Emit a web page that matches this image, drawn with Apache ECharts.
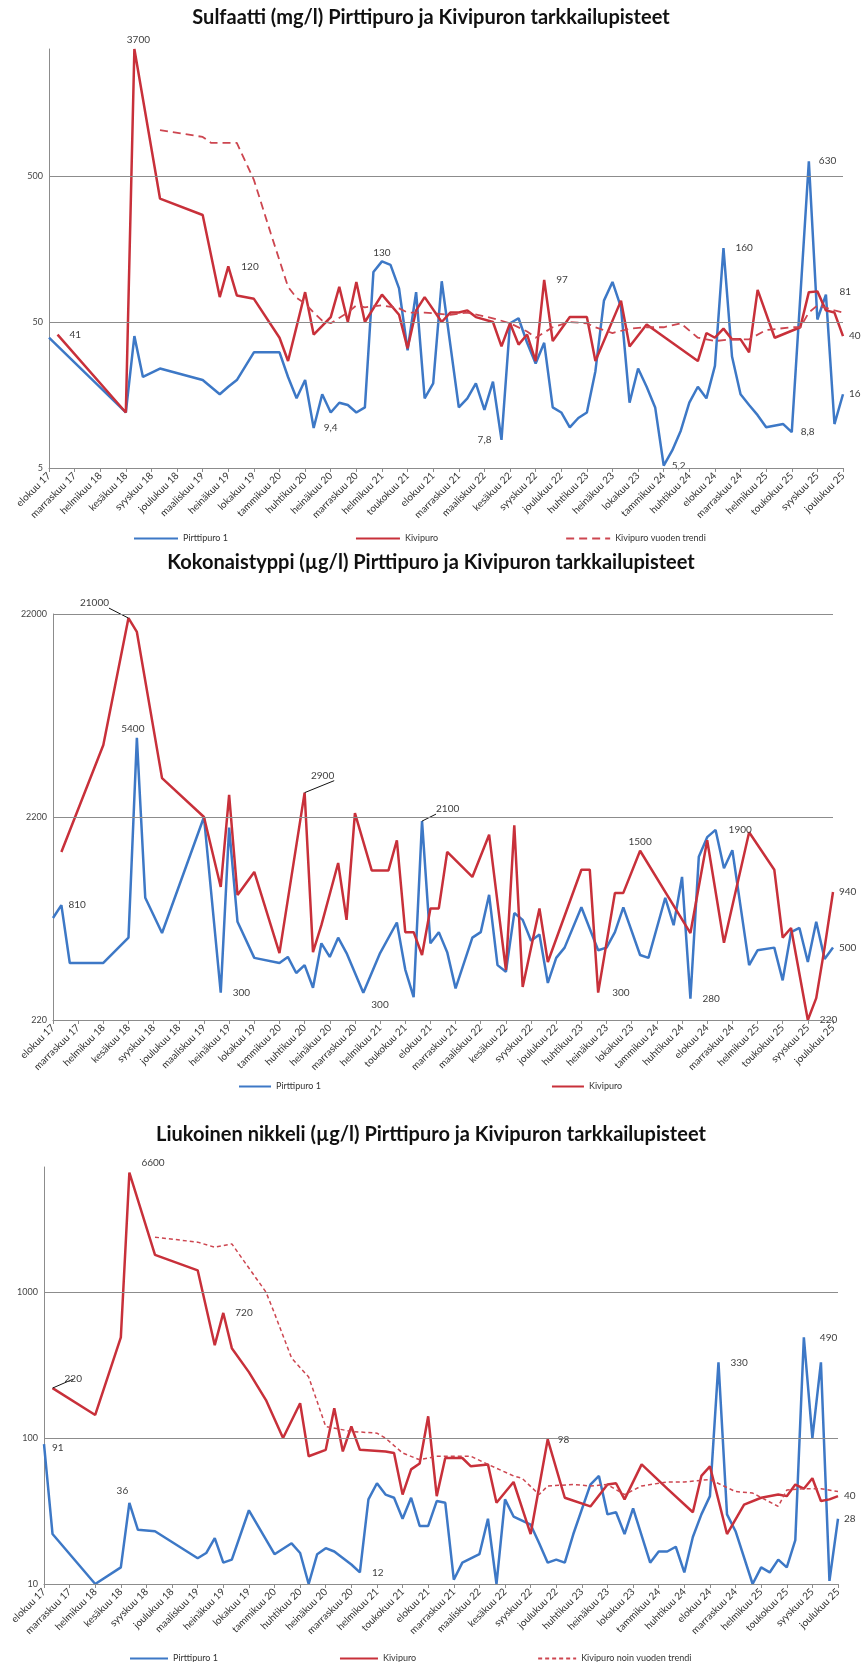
<!DOCTYPE html>
<html lang="fi">
<head>
<meta charset="UTF-8" />
<title>Pirttipuro ja Kivipuro</title>
<script src="https://cdn.jsdelivr.net/npm/echarts@6/dist/echarts.min.js"></script>
<style>
  html, body { margin: 0; padding: 0; background: #fff; }
  #main { width: 862px; height: 1662px; }
</style>
</head>
<body>
<div id="main"></div>
<script>
// x axis tick labels, one every third sampling
var monthLabels = ['elokuu 17', 'marraskuu 17', 'helmikuu 18', 'kesäkuu 18', 'syyskuu 18', 'joulukuu 18',
  'maaliskuu 19', 'heinäkuu 19', 'lokakuu 19', 'tammikuu 20', 'huhtikuu 20', 'heinäkuu 20', 'marraskuu 20',
  'helmikuu 21', 'toukokuu 21', 'elokuu 21', 'marraskuu 21', 'maaliskuu 22', 'kesäkuu 22', 'syyskuu 22',
  'joulukuu 22', 'huhtikuu 23', 'heinäkuu 23', 'lokakuu 23', 'tammikuu 24', 'huhtikuu 24', 'elokuu 24',
  'marraskuu 24', 'helmikuu 25', 'toukokuu 25', 'syyskuu 25', 'joulukuu 25'];

// gridline values (log axes)
var sulfTicks = [5, 50, 500];
var typTicks = [220, 2200, 22000];
var niTicks = [10, 100, 1000];

// [sampling index, value]
var sulfPirtti = [[0,39],[9,12],[10,40],[11,21],[13,24],[18,20],[20,16],[21,18],[22,20],[24,31],[27,31],[28,21],
  [29,15],[30,20],[31,9.4],[32,16],[33,12],[34,14],[35,13.5],[36,12],[37,13],[38,110],[39,130],[40,123],[41,85],
  [42,32],[43,80],[44,15],[45,19],[46,95],[48,13],[49,15],[50,19],[51,12.5],[52,19.5],[53,7.8],[54,49],[55,53],
  [56,36],[57,26],[58,36],[59,13],[60,12],[61,9.5],[62,11],[63,12],[64,23],[65,70],[66,94],[67,63],[68,14],
  [69,24],[70,18],[71,13],[72,5.2],[73,6.6],[74,9],[75,14],[76,18],[77,15],[78,25],[79,160],[80,29],[81,16],
  [82,13.5],[83,11.5],[84,9.5],[86,10],[87,8.8],[89,630],[90,52],[91,77],[92,10],[93,16]];
var sulfKivi = [[1,41],[9,12],[10,3700],[13,350],[18,270],[20,74],[21,120],[22,76],[24,72],[27,39],[28,27],
  [30,80],[31,41],[32,47],[33,54],[34,87],[35,50],[36,94],[37,50],[39,77],[41,56],[42,33],[43,60],[44,74],
  [46,50],[47,58],[48,58],[49,60],[50,54],[52,50],[53,34],[54,49],[55,35],[56,41],[57,27],[58,97],[59,37],
  [61,54],[63,54],[64,27],[67,70],[68,34],[70,48],[76,27],[77,42],[78,39],[79,45],[80,38],[81,38],[82,31],
  [83,83],[85,39],[88,46],[89,80],[90,81],[91,60],[92,58],[93,40]];
var sulfTrend = [[13,1030],[18,925],[19,841],[22,841],[24,470],[26,200],[28,87],[29,73],[30,67],[31,58],
  [32,51],[33,49],[35,58],[36,65],[37,63],[39,65],[41,62],[42,58],[44,58],[47,56],[49,58],[52,53],[54,49],
  [56,43],[57,39],[59,46],[61,50],[63,49],[64,46],[66,42],[68,45],[70,46],[72,46],[74,49],[76,39],[78,37],
  [80,38],[82,38],[84,44],[87,46],[88,46],[89,58],[90,65],[92,60],[93,58]];

var typPirtti = [[0,700],[1,810],[2,420],[6,420],[9,560],[10,5400],[11,880],[13,590],[18,2200],[20,300],
  [21,1950],[22,670],[24,445],[27,420],[28,450],[29,375],[30,410],[31,317],[32,525],[33,450],[34,560],[35,470],
  [37,300],[39,470],[41,665],[42,390],[43,285],[44,2100],[45,525],[46,596],[47,475],[48,315],[50,560],[51,596],
  [52,910],[53,410],[54,380],[55,740],[56,685],[57,540],[58,580],[59,335],[60,445],[61,500],[63,790],[65,485],
  [66,500],[67,596],[68,790],[70,460],[71,445],[73,880],[74,645],[75,1115],[76,280],[77,1400],[78,1750],
  [79,1900],[80,1230],[81,1510],[83,410],[84,485],[86,500],[87,345],[88,596],[89,625],[90,425],[91,670],
  [92,440],[93,500]];
var typKivi = [[1,1480],[6,4980],[9,21000],[10,17950],[13,3420],[18,2200],[20,995],[21,2825],[22,908],
  [24,1180],[27,470],[30,2900],[31,475],[32,645],[34,1305],[35,685],[36,2300],[38,1200],[40,1200],[41,1690],
  [42,596],[43,596],[44,460],[45,780],[46,780],[47,1480],[50,1115],[52,1800],[54,388],[55,2000],[56,320],
  [58,780],[59,425],[63,1210],[64,1210],[65,300],[67,930],[68,930],[70,1500],[76,590],[78,1690],[80,528],
  [83,1850],[86,1210],[87,560],[88,625],[90,220],[91,282],[92,500],[93,940]];

var niPirtti = [[0,91],[1,22],[6,10],[9,13],[10,36],[11,23.5],[13,23],[18,15],[19,16.3],[20,20.6],[21,14],
  [22,14.7],[24,32],[27,16],[29,19],[30,16.3],[31,10],[32,16],[33,17.6],[34,16.7],[36,13.6],[37,12],[38,38],
  [39,49],[40,41],[41,39],[42,28],[43,39],[44,25],[45,25],[46,37],[47,36],[48,10.7],[49,14],[51,16],[52,28],
  [53,10],[54,38],[55,29],[57,25.5],[58,19],[59,14],[60,14.7],[61,14],[62,22],[64,48],[65,55],[66,30],[67,31],
  [68,22],[69,33],[71,14],[72,16.7],[73,16.7],[74,18],[75,12],[76,21],[77,30],[78,40],[79,330],[80,30],[81,23],
  [83,10],[84,13],[85,12],[86,14.7],[87,13],[88,20],[89,490],[90,100],[91,330],[92,10.5],[93,28]];
var niKivi = [[1,220],[6,144],[9,490],[10,6600],[13,1800],[18,1410],[20,433],[21,720],[22,413],[24,283],
  [26,182],[28,100],[30,173],[31,75],[33,83],[34,160],[35,81],[36,120],[37,83],[40,81],[41,79],[42,41],[43,61],
  [44,67],[45,141],[46,40],[47,73],[48,73],[49,73],[50,64],[52,66],[53,36],[55,50],[57,22],[59,98],[61,39],
  [64,34],[66,48],[67,49],[68,38],[70,66],[73,45],[76,31],[77,55],[78,64],[80,22],[82,35],[84,39],[86,41],
  [87,40],[88,48],[89,45],[90,53],[91,37],[92,38],[93,40]];
var niTrend = [[13,2380],[18,2200],[20,2030],[22,2140],[26,1000],[27,715],[29,353],[31,262],[33,120],[36,111],
  [39,108],[40,100],[42,79],[44,71],[46,75],[48,75],[50,75],[52,66],[55,55],[56,53],[58,41],[59,47],[62,48],
  [64,47],[66,48],[68,41],[70,47],[73,50],[75,50],[78,52],[81,43],[83,42],[86,34],[87,44],[89,45],[91,45],
  [93,43]];

// one category per sampling, only every third is labelled
var cats = [];
monthLabels.forEach(function (m, i) {
  cats.push(m);
  if (i < monthLabels.length - 1) {
    cats.push(m + ' (2)');
    cats.push(m + ' (3)');
  }
});

var BLUE = '#3D78C6';
var RED = '#C8303A';
var TREND = '#CD4650';
var GRIDC = '#8c8c8c';

function fi(v) {
  return String(v).replace('.', ',');
}

// marks: which points carry a value label, index -> [position, dx, dy, leader line?]
function series(name, pairs, gi, color, width, dash, marks) {
  return {
    name: name,
    type: 'line',
    xAxisIndex: gi,
    yAxisIndex: gi,
    symbol: 'circle',
    symbolSize: 0,
    showAllSymbol: true,
    z: 3,
    lineStyle: { color: color, width: width, type: dash || 'solid' },
    itemStyle: { color: color },
    data: pairs.map(function (p) {
      var m = marks && marks[p[0]];
      if (!m) return p;
      var item = {
        value: p,
        label: {
          show: true,
          position: m[0],
          distance: 4,
          offset: [m[1], m[2]],
          fontSize: 10,
          color: '#404040',
          formatter: function (q) { return fi(q.value[1]); }
        }
      };
      if (m[3]) {
        item.labelLine = { show: true, lineStyle: { color: '#111', width: 1 } };
      }
      return item;
    })
  };
}

// horizontal gridlines with their labels
function gridLines(gi, ticks) {
  return {
    name: 'grid' + gi,
    type: 'line',
    xAxisIndex: gi,
    yAxisIndex: gi,
    data: [],
    silent: true,
    z: 1,
    markLine: {
      silent: true,
      symbol: ['none', 'none'],
      animation: false,
      lineStyle: { color: GRIDC, width: 1, type: 'solid' },
      label: { position: 'start', distance: 6, color: '#444', fontSize: 9,
        formatter: function (p) { return p.value; } },
      data: ticks.map(function (t) { return { yAxis: t }; })
    }
  };
}

function xAxis(gi) {
  return {
    type: 'category',
    gridIndex: gi,
    data: cats,
    boundaryGap: false,
    axisLine: { lineStyle: { color: GRIDC } },
    axisTick: { interval: 2, length: 4, lineStyle: { color: GRIDC } },
    axisLabel: { interval: 2, rotate: 45, fontSize: 10, color: '#333', margin: 6 },
    splitLine: { show: false }
  };
}

function yAxis(gi, min, max) {
  return {
    type: 'log',
    logBase: 10,
    gridIndex: gi,
    min: min,
    max: max,
    axisLine: { show: true, lineStyle: { color: GRIDC } },
    axisTick: { show: false },
    axisLabel: { show: false },
    splitLine: { show: false }
  };
}

var titleStyle = { fontFamily: 'Lato', fontWeight: 'bold', fontSize: 20, color: '#111' };
var legendText = { fontSize: 9, color: '#333' };
var noSymbol = { opacity: 0 };

var chart = echarts.init(document.getElementById('main'));
var option = {
  animation: false,
  backgroundColor: '#fff',
  textStyle: { fontFamily: 'Lato' },
  title: [
    { text: 'Sulfaatti (mg/l) Pirttipuro ja Kivipuron tarkkailupisteet', left: 'center', top: 3, textStyle: titleStyle },
    { text: 'Kokonaistyppi (µg/l) Pirttipuro ja Kivipuron tarkkailupisteet', left: 'center', top: 548, textStyle: titleStyle },
    { text: 'Liukoinen nikkeli (µg/l) Pirttipuro ja Kivipuron tarkkailupisteet', left: 'center', top: 1120, textStyle: titleStyle }
  ],
  legend: [
    { data: ['Pirttipuro 1', 'Kivipuro', 'Kivipuro vuoden trendi'], left: 128, top: 529, itemGap: 127,
      itemWidth: 44, itemHeight: 10, itemStyle: noSymbol, textStyle: legendText, selectedMode: false },
    { data: ['Pirttipuro 1', 'Kivipuro'], left: 233, top: 1077, itemGap: 230,
      itemWidth: 32, itemHeight: 10, itemStyle: noSymbol, textStyle: legendText, selectedMode: false },
    { data: ['Pirttipuro 1', 'Kivipuro', 'Kivipuro noin vuoden trendi'], left: 124, top: 1649, itemGap: 121,
      itemWidth: 38, itemHeight: 10, itemStyle: noSymbol, textStyle: legendText, selectedMode: false }
  ],
  grid: [
    { left: 49, right: 19, top: 49, height: 419 },
    { left: 53, right: 29, top: 614, height: 406 },
    { left: 44, right: 24, top: 1167, height: 417 }
  ],
  xAxis: [xAxis(0), xAxis(1), xAxis(2)],
  yAxis: [yAxis(0, 5, 3700), yAxis(1, 220, 22000), yAxis(2, 10, 7200)],
  series: [
    gridLines(0, sulfTicks),
    gridLines(1, typTicks),
    gridLines(2, niTicks),

    series('Pirttipuro 1', sulfPirtti, 0, BLUE, 2.5, null,
      { 39: ['top', 0, 0], 31: ['right', 6, 0], 53: ['left', -6, 0], 72: ['right', 4, 0], 79: ['right', 8, 0],
        89: ['right', 6, 0], 87: ['right', 5, 0], 93: ['right', 2, 0] }),
    series('Kivipuro', sulfKivi, 0, RED, 2.5, null,
      { 1: ['right', 8, 0], 10: ['top', 4, 0], 21: ['right', 9, 0], 58: ['right', 8, 0], 90: ['right', 18, 0],
        93: ['right', 2, 0] }),
    series('Kivipuro vuoden trendi', sulfTrend, 0, TREND, 1.8, [8, 5], null),

    series('Pirttipuro 1', typPirtti, 1, BLUE, 2.5, null,
      { 1: ['right', 3, 0], 10: ['top', -4, 0], 20: ['right', 8, 0], 37: ['right', 4, 12], 44: ['right', 10, -12, true],
        76: ['right', 8, 0], 79: ['right', 9, 0], 93: ['right', 2, 0] }),
    series('Kivipuro', typKivi, 1, RED, 2.5, null,
      { 9: ['top', -34, -6, true], 30: ['top', 18, -8, true], 65: ['right', 10, 0], 70: ['top', 0, 0],
        90: ['right', 8, 0], 93: ['right', 2, 0] }),

    series('Pirttipuro 1', niPirtti, 2, BLUE, 2.5, null,
      { 0: ['right', 4, 4], 10: ['top', -7, -3], 37: ['right', 8, 0], 79: ['right', 8, 0], 89: ['right', 12, 0],
        93: ['right', 2, 0] }),
    series('Kivipuro', niKivi, 2, RED, 2.5, null,
      { 1: ['right', 8, -9, true], 10: ['right', 8, -10], 21: ['right', 8, 0], 59: ['right', 6, 0],
        93: ['right', 2, 0] }),
    series('Kivipuro noin vuoden trendi', niTrend, 2, TREND, 1.5, [4, 3], null)
  ]
};
chart.setOption(option);
</script>
</body>
</html>
